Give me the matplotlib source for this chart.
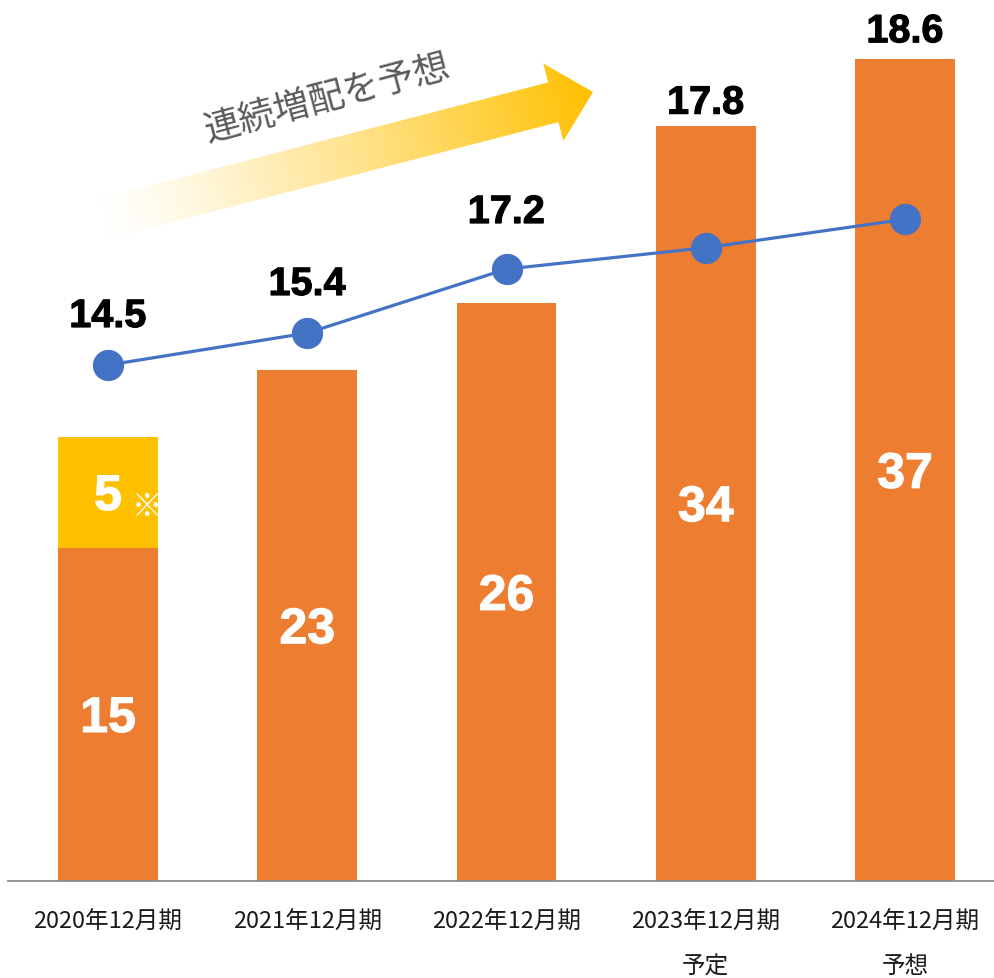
import numpy as np
import matplotlib
matplotlib.use("Agg")
import matplotlib.pyplot as plt
import matplotlib.patheffects as pe
from matplotlib.patches import Polygon
from matplotlib.colors import to_rgb

plt.rcParams['font.family'] = ['Noto Sans CJK JP', 'DejaVu Sans']

# ---------------------------------------------------------
# Data
# ---------------------------------------------------------
categories = ["2020年12月期", "2021年12月期", "2022年12月期",
              "2023年12月期\n予定", "2024年12月期\n予想"]
base_values = [15, 23, 26, 34, 37]          # orange bars
extra_values = [5, 0, 0, 0, 0]              # yellow stacked part (2020 only)
line_values = [14.5, 15.4, 17.2, 17.8, 18.6]
# label offsets above the line points (pixels)
line_label_offsets = [38, 38, 46, 134, 177]

ORANGE = '#ED7D31'
YELLOW = '#FFC000'
BLUE = '#4472C4'

W, H = 994, 979
fig = plt.figure(figsize=(W / 100, H / 100), dpi=100)
fig.patch.set_facecolor('white')

# main axes (baseline at y=881.5px from top)
ax = fig.add_axes([8.4 / W, (H - 881.5) / H, 996.25 / W, 881.5 / H])
x = np.arange(len(categories))

ax.bar(x, base_values, width=0.5, color=ORANGE, zorder=2)
ax.bar(x, extra_values, width=0.5, bottom=base_values, color=YELLOW, zorder=2)

ax.set_xlim(-0.5, len(categories) - 0.5)
ax.set_ylim(0, 881.5 / 22.2)
ax.set_yticks([])
for s in ['top', 'right', 'left']:
    ax.spines[s].set_visible(False)
ax.spines['bottom'].set_color('#8c8c8c')
ax.spines['bottom'].set_linewidth(1.3)
ax.set_xticks(x)
ax.set_xticklabels(categories, fontsize=17, color='#1a1a1a')
ax.tick_params(axis='x', length=0, pad=21)
for t in ax.get_xticklabels():
    t.set_linespacing(2.2)

# white value labels inside the bars
bold = dict(family='Liberation Sans', weight='bold')
white_fx = [pe.withStroke(linewidth=0.8, foreground='white')]
for i, (b, e) in enumerate(zip(base_values, extra_values)):
    ax.text(i, b / 2, str(b), ha='center', va='center_baseline', color='white',
            fontsize=36, zorder=3, path_effects=white_fx, **bold)
    if e:
        ax.text(i, b + e / 2, str(e), ha='center', va='center_baseline',
                color='white', fontsize=36, zorder=3, path_effects=white_fx,
                **bold)
        ax.text(i + 0.195, b + e / 2 - 0.6, "※", ha='center', va='center',
                color='white', fontsize=22, zorder=3)

# secondary axis: line
ax2 = ax.twinx()
ax2.set_ylim(0, 881.5 / 35.55)
ax2.axis('off')
ax2.plot(x, line_values, color=BLUE, linewidth=2.3, marker='o',
         markersize=21.5, zorder=4)
black_fx = [pe.withStroke(linewidth=0.8, foreground='black')]
for i, (v, off) in enumerate(zip(line_values, line_label_offsets)):
    ax2.annotate(f"{v}", (i, v), xytext=(0, off), textcoords='offset pixels',
                 ha='center', va='baseline', fontsize=28.5, color='black',
                 path_effects=black_fx, **bold)

# ---------------------------------------------------------
# Gradient arrow + caption (overlay in pixel coords)
# ---------------------------------------------------------
ov = fig.add_axes([0, 0, 1, 1])
ov.set_xlim(0, W)
ov.set_ylim(H, 0)
ov.axis('off')
ov.patch.set_alpha(0)

tail = np.array([106.0, 219.0])
tip = np.array([593.0, 93.0])
u = (tip - tail) / np.linalg.norm(tip - tail)
n = np.array([-u[1], u[0]])
shaft_hw, head_hw, head_len = 20.5, 40.0, 41.0
base = tip - u * head_len
verts = [tail + n * shaft_hw, base + n * shaft_hw, base + n * head_hw, tip,
         base - n * head_hw, base - n * shaft_hw, tail - n * shaft_hw]
poly = Polygon(verts, closed=True, facecolor='none', edgecolor='none')
ov.add_patch(poly)

gx0, gx1, gy0, gy1 = 90, 610, 50, 260
gx, gy = np.meshgrid(np.linspace(gx0, gx1, 400), np.linspace(gy0, gy1, 200))
t = ((gx - tail[0]) * u[0] + (gy - tail[1]) * u[1]) / np.linalg.norm(tip - tail)
t = np.clip(t, 0, 1) ** 1.2
c0 = np.array([1.0, 1.0, 1.0])
c1 = np.array(to_rgb(YELLOW))
img = c0[None, None, :] * (1 - t[..., None]) + c1[None, None, :] * t[..., None]
im = ov.imshow(img, extent=(gx0, gx1, gy1, gy0), origin='upper',
               interpolation='bilinear', zorder=1)
im.set_clip_path(poly)
ov.set_xlim(0, W)
ov.set_ylim(H, 0)

ov.text(327, 98, "連続増配を予想", rotation=15, rotation_mode='anchor',
        ha='center', va='center', fontsize=26, color='#595959')

fig.savefig("out.png", dpi=100)
